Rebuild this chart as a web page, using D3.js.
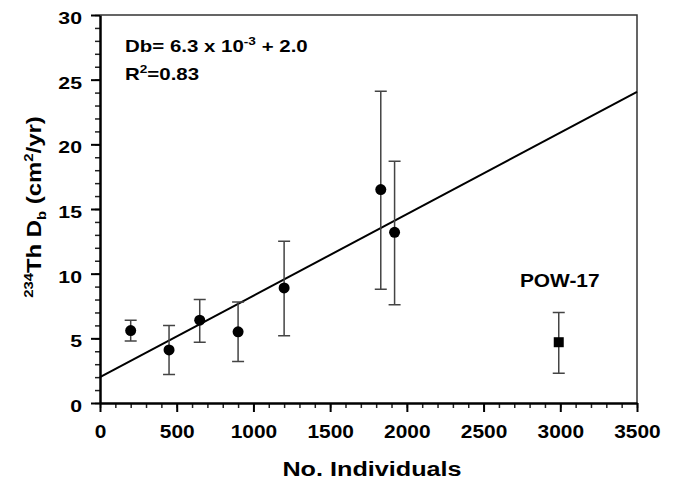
<!DOCTYPE html>
<html>
<head>
<meta charset="utf-8">
<script src="https://cdn.jsdelivr.net/npm/d3@7"></script>
<style>
  body { margin: 0; background: #fff; }
  svg text { font-family: "Liberation Sans", Arial, sans-serif; font-weight: bold; }
</style>
</head>
<body>
<svg id="drawing_region"></svg>
<script>
// stations (circles) and the POW-17 outlier (square)
const individuals = [200, 450, 650, 900, 1200, 1830, 1920];
const db = [5.6, 4.1, 6.4, 5.5, 8.9, 16.5, 13.2];
const dbLow = [4.8, 2.2, 4.7, 3.2, 5.2, 8.8, 7.6];
const dbHigh = [6.4, 6.0, 8.0, 7.8, 12.5, 24.1, 18.7];

const outlierX = [2990];
const outlierY = [4.7];
const outlierLow = [2.3];
const outlierHigh = [7.0];
const outlierName = ["POW-17"];

const slope = 0.0063, intercept = 2.0;
const xTicks = [0, 500, 1000, 1500, 2000, 2500, 3000, 3500];
const yTicks = [0, 5, 10, 15, 20, 25, 30];

const config = {
    width: 677, height: 486,
    margin: {top: 15, right: 40, bottom: 83, left: 100}
};

const svg = d3.select('#drawing_region')
    .attr('width', config.width)
    .attr('height', config.height);

const inner_width = config.width - config.margin.left - config.margin.right;
const inner_height = config.height - config.margin.top - config.margin.bottom;

const chart = svg.append('g')
    .attr('transform', `translate(${config.margin.left}, ${config.margin.top})`);

const xscale = d3.scaleLinear().domain([0, 3500]).range([0, inner_width]);
const yscale = d3.scaleLinear().domain([0, 30]).range([inner_height, 0]);

// frame (top + right)
chart.append('path')
    .attr('d', `M0,0H${inner_width}V${inner_height}`)
    .attr('fill', 'none').attr('stroke', '#333').attr('stroke-width', 1.5);

// minor ticks
const xminor = chart.append('g')
    .attr('transform', `translate(0, ${inner_height})`)
    .call(d3.axisBottom(xscale).tickValues(d3.range(0, 3501, 100)).tickSize(5).tickFormat(''));
const yminor = chart.append('g')
    .call(d3.axisLeft(yscale).tickValues(d3.range(0, 31, 1)).tickSize(5).tickFormat(''));
[xminor, yminor].forEach(g => {
    g.select('.domain').remove();
    g.selectAll('line').attr('stroke', '#222').attr('stroke-width', 1.5);
});

// major axes
const xaxis_group = chart.append('g')
    .attr('transform', `translate(0, ${inner_height})`)
    .call(d3.axisBottom(xscale).tickValues(xTicks).tickSize(9).tickSizeOuter(0)
        .tickPadding(13).tickFormat(d3.format('d')));
const yaxis_group = chart.append('g')
    .call(d3.axisLeft(yscale).tickValues(yTicks).tickSize(9).tickSizeOuter(0));
[xaxis_group, yaxis_group].forEach(g => {
    g.select('.domain').attr('stroke', '#000').attr('stroke-width', 2.5);
    g.selectAll('line').attr('stroke', '#000').attr('stroke-width', 2);
    g.selectAll('text').attr('fill', '#000')
        .attr('font-family', '"Liberation Sans", Arial, sans-serif').attr('font-weight', 'bold');
});
xaxis_group.selectAll('text').attr('font-size', 19)
    .attr('transform', 'scale(1.1,1)');
yaxis_group.selectAll('text').attr('font-size', 17)
    .attr('x', -18 / 1.25).attr('dy', '0.5em')
    .attr('transform', 'scale(1.25,1)');

// regression line
chart.append('line')
    .attr('x1', xscale(0)).attr('y1', yscale(intercept))
    .attr('x2', xscale(3500)).attr('y2', yscale(intercept + slope * 3500))
    .attr('stroke', '#000').attr('stroke-width', 2);

// error bars
function errorBars(xs, lo, hi) {
    const g = chart.append('g').attr('stroke', '#444').attr('stroke-width', 1.5).attr('fill', 'none');
    xs.forEach((x, i) => {
        const px = xscale(x);
        g.append('path')
            .attr('d', `M${px},${yscale(lo[i])}V${yscale(hi[i])}` +
                `M${px - 6},${yscale(lo[i])}H${px + 6}` +
                `M${px - 6},${yscale(hi[i])}H${px + 6}`);
    });
}
errorBars(individuals, dbLow, dbHigh);
errorBars(outlierX, outlierLow, outlierHigh);

chart.selectAll('circle.pt')
    .data(individuals)
    .enter().append('circle')
    .attr('class', 'pt')
    .attr('cx', d => xscale(d))
    .attr('cy', (d, i) => yscale(db[i]))
    .attr('r', 5.5)
    .attr('fill', '#000');

chart.selectAll('rect.pt')
    .data(outlierX)
    .enter().append('rect')
    .attr('class', 'pt')
    .attr('x', d => xscale(d) - 5)
    .attr('y', (d, i) => yscale(outlierY[i]) - 5)
    .attr('width', 10).attr('height', 10)
    .attr('fill', '#000');

chart.selectAll('text.lbl')
    .data(outlierX)
    .enter().append('text')
    .attr('class', 'lbl')
    .attr('transform', (d, i) => `translate(${xscale(d) + 1}, ${yscale(outlierHigh[i]) - 25}) scale(1.13,1)`)
    .attr('text-anchor', 'middle')
    .attr('font-size', 18.5)
    .text((d, i) => outlierName[i]);

// equation
const eq = chart.append('text').attr('transform', 'translate(25, 37) scale(1.24,1)').attr('font-size', 16.5);
eq.append('tspan').text('Db= 6.3 x 10');
eq.append('tspan').attr('dy', -7).attr('font-size', 11).text('-3');
eq.append('tspan').attr('dy', 7).text(' + 2.0');
const r2 = chart.append('text').attr('transform', 'translate(25, 65) scale(1.24,1)').attr('font-size', 16.5);
r2.append('tspan').text('R');
r2.append('tspan').attr('dy', -7).attr('font-size', 11).text('2');
r2.append('tspan').attr('dy', 7).text('=0.83');

// axis titles
svg.append('text')
    .attr('transform', 'translate(372, 476) scale(1.2,1)')
    .attr('text-anchor', 'middle')
    .attr('font-size', 21)
    .text('No. Individuals');

const yt = svg.append('text')
    .attr('transform', `translate(41, 207) rotate(-90) scale(1.14,1)`)
    .attr('text-anchor', 'middle')
    .attr('font-size', 21);
yt.append('tspan').attr('font-size', 13).attr('dy', -8).text('234');
yt.append('tspan').attr('dy', 8).text('Th D');
yt.append('tspan').attr('font-size', 13).attr('dy', 5).text('b');
yt.append('tspan').attr('dy', -5).text(' (cm');
yt.append('tspan').attr('font-size', 13).attr('dy', -8).text('2');
yt.append('tspan').attr('dy', 8).text('/yr)');
</script>
</body>
</html>
